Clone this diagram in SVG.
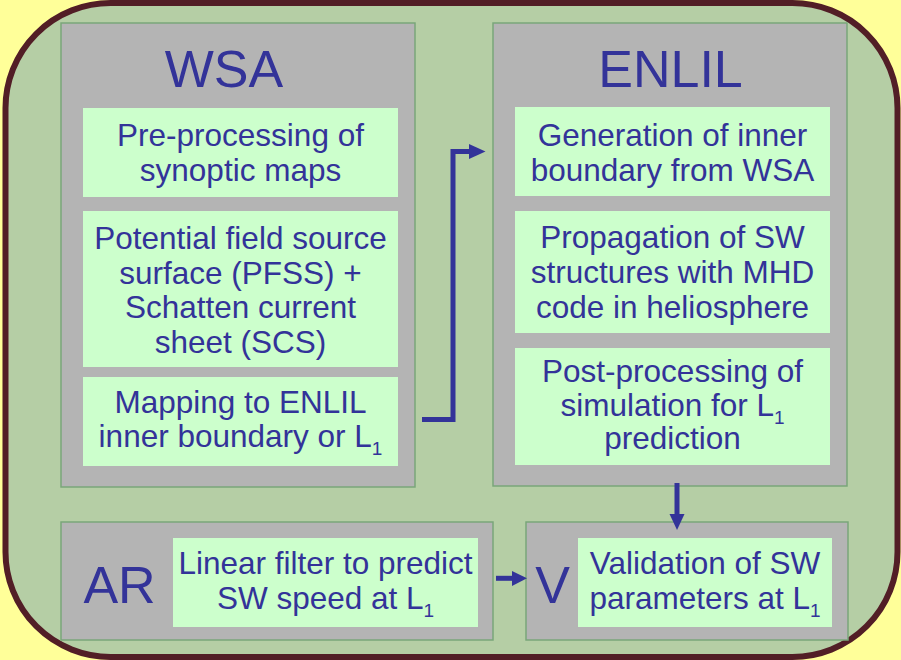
<svg xmlns="http://www.w3.org/2000/svg" width="901" height="660" viewBox="0 0 901 660">
<style>
.panel{fill:#b4b4b4;stroke:#7aa67a;stroke-width:1.5}
.box{fill:#ccffcc}
text{font-family:"Liberation Sans",Arial,sans-serif;fill:#333399;text-anchor:middle}
.t{font-size:31.5px}
.h{font-size:52px}
.sub{font-size:19px}
.conn{fill:none;stroke:#333399;stroke-width:5}
.head{fill:#333399}
</style>
<rect x="0" y="0" width="901" height="660" fill="#ffff99"/>
<rect x="5.5" y="3" width="892" height="654" rx="105" ry="105" fill="#b5cea5" stroke="#521e26" stroke-width="6"/>

<g id="wsa">
<rect class="panel" x="61" y="23" width="354" height="464"/>
<text class="h" x="224" y="87">WSA</text>
</g>
<g id="preprocessing">
<rect class="box" x="83" y="108" width="315" height="89"/>
<text class="t" x="240.5" y="146">Pre-processing of</text>
<text class="t" x="240.5" y="181">synoptic maps</text>
</g>
<g id="pfss">
<rect class="box" x="83" y="211" width="315" height="156"/>
<text class="t" x="240.5" y="249">Potential field source</text>
<text class="t" x="240.5" y="283.5">surface (PFSS) +</text>
<text class="t" x="240.5" y="318">Schatten current</text>
<text class="t" x="240.5" y="352.5">sheet (SCS)</text>
</g>
<g id="mapping">
<rect class="box" x="83" y="377" width="315" height="89"/>
<text class="t" x="240.5" y="413">Mapping to ENLIL</text>
<text class="t" x="240.5" y="447">inner boundary or L<tspan class="sub" dy="8">1</tspan></text>
</g>

<g id="enlil">
<rect class="panel" x="493" y="23" width="354" height="463"/>
<text class="h" x="670.5" y="87">ENLIL</text>
</g>
<g id="generation">
<rect class="box" x="515" y="107" width="315" height="89"/>
<text class="t" x="672.5" y="146">Generation of inner</text>
<text class="t" x="672.5" y="180.5">boundary from WSA</text>
</g>
<g id="propagation">
<rect class="box" x="515" y="211" width="315" height="122"/>
<text class="t" x="672.5" y="248">Propagation of SW</text>
<text class="t" x="672.5" y="283">structures with MHD</text>
<text class="t" x="672.5" y="318">code in heliosphere</text>
</g>
<g id="postprocessing">
<rect class="box" x="515" y="348" width="315" height="117"/>
<text class="t" x="672.5" y="382">Post-processing of</text>
<text class="t" x="672.5" y="415.5">simulation for L<tspan class="sub" dy="8">1</tspan></text>
<text class="t" x="672.5" y="449">prediction</text>
</g>

<g id="ar">
<rect class="panel" x="61" y="522" width="432" height="118"/>
<text class="h" x="119.5" y="603">AR</text>
</g>
<g id="linearfilter">
<rect class="box" x="173" y="538" width="305" height="89"/>
<text class="t" x="325.5" y="574">Linear filter to predict</text>
<text class="t" x="325.5" y="609">SW speed at L<tspan class="sub" dy="8">1</tspan></text>
</g>

<g id="v">
<rect class="panel" x="526" y="522" width="322" height="118"/>
<text class="h" x="552.5" y="603">V</text>
</g>
<g id="validation">
<rect class="box" x="578" y="538" width="254" height="89"/>
<text class="t" x="705" y="574">Validation of SW</text>
<text class="t" x="705" y="609">parameters at L<tspan class="sub" dy="8">1</tspan></text>
</g>

<g id="connectors">
<path class="conn" d="M422,419.5 H453 V151.5 H470"/>
<polygon class="head" points="469,144 485.5,151.5 469,159"/>
<path class="conn" d="M677,483 V515"/>
<polygon class="head" points="669.5,514 684.5,514 677,530"/>
<path class="conn" d="M496,578.3 H513"/>
<polygon class="head" points="512,571 527,578.3 512,586"/>
</g>
</svg>
